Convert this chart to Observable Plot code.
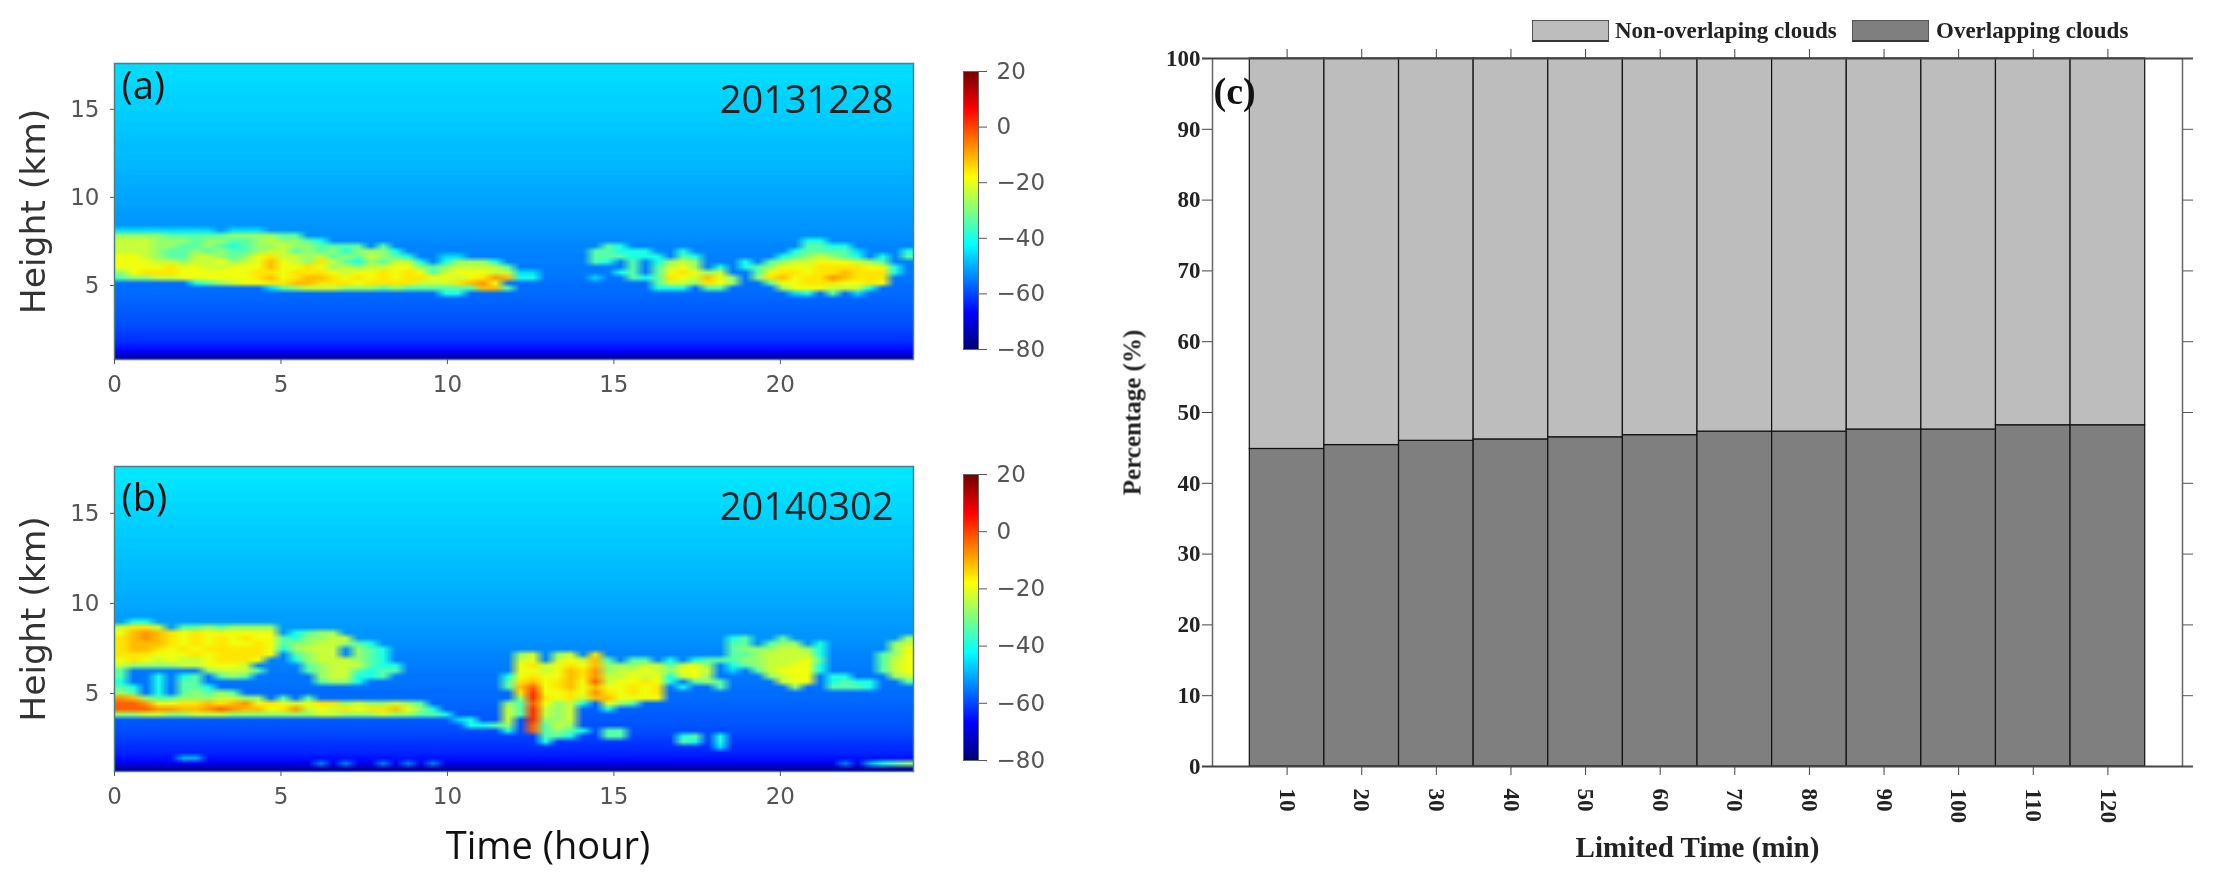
<!DOCTYPE html>
<html>
<head>
<meta charset="utf-8">
<script src="https://cdn.jsdelivr.net/npm/d3@7"></script>
<script src="https://cdn.jsdelivr.net/npm/@observablehq/plot@0.6"></script>
<style>
  html, body { margin: 0; background: #fff; }
  #page { position: relative; width: 2218px; height: 883px; overflow: hidden; }
  #page svg { position: absolute; filter: blur(0.6px); background: none; overflow: visible; }
  .swatch { position: absolute; top: 20px; height: 19px; width: 75px; border: 1px solid #555; border-bottom: 2px solid #333; filter: blur(0.5px); }
  .legtext { position: absolute; top: 18px; font: bold 23px "Liberation Serif"; color: #222; line-height: 26px; white-space: nowrap; }
</style>
</head>
<body>
<div id="page"></div>
<script>
// reflectivity (dBZ): letters are levels, "." means clear air
const levelChars = "vwxabcdefghijk";
const levelValues = [-60, -55, -50, -46, -40, -34, -28, -23, -19, -15, -11, -7, -2, 3];

// clear air value per height row, top to bottom
const clearAirA = [-46,-46,-46,-46,-46.5,-46.5,-47,-47,-47,-47.5,-47.5,-48,-48,-48.5,-48.5,-49,-49,-49,-49.5,-49.5,-50,-50.5,-50.5,-51,-51,-51.5,-51.5,-52,-52.5,-52.5,-53,-53,-53.5,-54,-54.5,-54.5,-55,-55,-55.5,-55.5,-56,-56.5,-57,-57,-57.5,-58,-58.5,-59,-59.5,-60,-61,-62,-63,-65,-68,-75];
const clearAirB = [-45,-45,-45,-45.5,-45.5,-46,-46,-46.5,-46.5,-47,-47,-47.5,-47.5,-48,-48,-48.5,-48.5,-49,-49,-49.5,-49.5,-50,-50,-50.5,-51,-51,-51.5,-52,-52,-52.5,-53,-53,-53.5,-54,-54.5,-55,-55,-55.5,-56,-56,-56.5,-57,-57,-57.5,-58,-58.5,-59,-59.5,-60,-61,-62,-63,-64,-66,-69,-77];

// cloud rows, left half | right half, starting at row cloudStartA (spaces are only for reading)
const cloudStartA = 31;
const cloudA = [
  "aaaaaaaa.aaa|",
  "ddddcccccddddcc|",
  "eeedddcddccdeddcb|...... .. .. .. ... ... . ....bb...... .",
  "eeeddccdcbcddeddcccc.c|...... .c b. .. ... ... . ....ccbb.... .",
  "eeedccdcdccdeecdcdbdddb|...... cc bb b. .b. ... . ...bcccca... b",
  "ffedcceedcdfgeedecdcedcb..aa|...... cc cb bb .cb ... . ..bcdedcb.b. c",
  "fffeedeefdefhfedgecbdceeb.bdddb|...... cb .c .b ded ... b .cdeefffedc. .",
  "ffffgffeefffhffgfdedeeffdcdeeeec|...... .. .c .c efd .b. b cdfffggggffb .",
  "dfgggffffffggfgggfeffgfgfcefffee|aa.... .. bc .c fgf de. . cfggfgghgggb .",
  "cddeeffffffghfghhgfgfgfggffefgih|bb.... a. .c bc gfe hfd . dghfggihggg. .",
  "......bcdeffgghhgggfggggeeeghif|...... .. .. .c eed gfd . .cffgggffgf. .",
  "............acdeeedddcdcccccchhc|...... .. .. .b bb. cc. . ..dfffeeeb.. .",
  "..........................bb|...... .. .. .. ... ... . ...ab.c.a.... ."
];

const cloudStartB = 28;
const cloudB = [
  ".bb|",
  "egge.ccdcdddd|",
  "fhihgfgffffff.bcdd|",
  "ghihgfgfgfgffcbddee|... ... . .. ... ..... bc ..c.. . .... ..d",
  "ghhhgfgfgffgfcddeedcb|... ... . .. ... ..... cc .cdd. b .... .de",
  "ghhgfgfgggggfbdeee.dcb|... ... . .. ... ..... cd ddeed b .... .df",
  "gggfffgfggggf.cdee.dcb|de. de. g .. ... ..... cc deeee b .... cdf",
  "fgfefeefgggf..bdeeedcb|ef. efe h c. cc. b.bcc cd deeef c .... cef",
  "eddddeefffe....cdeeecbb|fge fgf h dd dee cefd. bc deeff b .... cef",
  "c......deeec...cdeecbcc|ffe fhg i de efe dffe. a. cefff b .... cef",
  "c..b.bc.cdc.....deebbc.........b|fgf fhg i ee fef befd. .. .deff . bb.. .de",
  "b..b.cc.........cddb...........c|ghf ghf j ef fgf b.cdc .. ..eff . bcbb ..c",
  "cb.b.ccb.......................c|hjf ghf h ff gfg .b..c .. ...d. . cccb ...",
  "dc.b.cdcdc|gkf fgf i gf gfg",
  "ihdccdddeedd.c.c|dkg fge h hf fff",
  "jjiffgghghifgfefggdeddedc......d|cjf deb . fd c..",
  "jjjiihhijihhfgiefegfgghfdb.....e|cke de. . b. ...",
  "ddeeddeeedddddddeedddeddccb....e|cke de.",
  "...........................ab..e|.kd de.",
  "............................bbcd|.jc ed.",
  "...............................b|.jc dcb . cc",
  "|..c cb. . cc ... .bc.b",
  "|..b ... . .. ... .cb.b",
  "|... ... . .. ... ....a",
  "|",
  ".....xx|",
  "................w.w..w.w.w|..........................w.xbcd"
];

const timeBounds = [0, 24];
const heightBoundsA = [17.6, 0.8];
const heightBoundsB = [17.6, 0.67];
const xTicks = [0, 5, 10, 15, 20];
const yTicks = [5, 10, 15];
const barTicks = [20, 0, -20, -40, -60, -80];
const barLevels = [20,17.5,15,12.5,10,7.5,5,2.5,0,-2.5,-5,-7.5,-10,-12.5,-15,-17.5,-20,-22.5,-25,-27.5,-30,-32.5,-35,-37.5,-40,-42.5,-45,-47.5,-50,-52.5,-55,-57.5,-60,-62.5,-65,-67.5,-70,-72.5,-75,-77.5,-80];

// panel c
const limitedTime = [10, 20, 30, 40, 50, 60, 70, 80, 90, 100, 110, 120];
const overlapping = [44.85, 45.4, 46, 46.2, 46.5, 46.8, 47.3, 47.3, 47.6, 47.6, 48.2, 48.2];
const nonOverlapping = [55.15, 54.6, 54, 53.8, 53.5, 53.2, 52.7, 52.7, 52.4, 52.4, 51.8, 51.8];
const percentTicks = [0, 10, 20, 30, 40, 50, 60, 70, 80, 90, 100];

const jet = {
  type: "linear",
  domain: [-80, -67.5, -42.5, -17.5, 7.5, 20],
  range: ["#00007f", "#0000ff", "#00ffff", "#ffff00", "#ff0000", "#7f0000"]
};

const page = document.getElementById("page");
function place(svg, left, top) {
  svg.style.left = left + "px";
  svg.style.top = top + "px";
  page.append(svg);
}

function toGrid(clearAir, rows, start) {
  const out = [];
  clearAir.forEach((v, i) => {
    const parts = (rows[i - start] || "|").replaceAll(" ", "").split("|");
    const line = parts[0].padEnd(32, ".").slice(0, 32) + (parts[1] || "").padEnd(32, ".").slice(0, 32);
    for (const ch of line) {
      const k = levelChars.indexOf(ch);
      out.push(k < 0 ? v : levelValues[k]);
    }
  });
  return out;
}

function radarPanel(grid, yBounds, letter, letterDy, date, dateDy, panelH, xLabel) {
  return Plot.plot({
    width: 930, height: panelH + 110,
    marginLeft: 114, marginRight: 17, marginTop: 10, marginBottom: 100,
    style: {fontFamily: "DejaVu Sans", color: "#555"},
    x: {domain: timeBounds},
    y: {domain: [yBounds[1], yBounds[0]]},
    color: jet,
    marks: [
      Plot.raster(grid, {width: 64, height: 56, x1: timeBounds[0], x2: timeBounds[1], y1: yBounds[0], y2: yBounds[1]}),
      Plot.frame({stroke: "#4f7f80", strokeWidth: 1.5}),
      Plot.axisX({ticks: xTicks, tickSize: 5, tickPadding: 11, fontSize: 23, label: null, stroke: "#555", fill: "#555"}),
      Plot.axisY({ticks: yTicks, tickSize: 4, tickPadding: 11, fontSize: 23, label: null, stroke: "#555", fill: "#555"}),
      Plot.text(["Height (km)"], {frameAnchor: "left", textAnchor: "middle", dx: -81, rotate: -90, fontSize: 34.5, fill: "#333", fontFamily: "DejaVu Sans"}),
      Plot.text([letter], {frameAnchor: "top-left", dx: 7, dy: letterDy, fontSize: 38, fill: "#111", fontFamily: "Open Sans"}),
      Plot.text([date], {frameAnchor: "top-right", dx: -20, dy: dateDy, fontSize: 38, fill: "#222", fontFamily: "Open Sans"}),
      xLabel ? Plot.text([xLabel], {frameAnchor: "bottom", dx: 34, dy: 87, fontSize: 38, fill: "#111", fontFamily: "Open Sans"}) : null
    ]
  });
}

function colorBar(h) {
  return Plot.plot({
    width: 75, height: h + 20,
    marginLeft: 5, marginRight: 55, marginTop: 10, marginBottom: 10,
    style: {fontFamily: "DejaVu Sans", color: "#555"},
    x: {domain: [0, 1], axis: null},
    y: {domain: [-80, 20]},
    color: jet,
    marks: [
      Plot.raster(barLevels, {width: 1, height: barLevels.length, x1: 0, x2: 1, y1: 20, y2: -80}),
      Plot.frame({stroke: "#666", strokeWidth: 1}),
      Plot.axisY({anchor: "right", ticks: barTicks, tickSize: 8, tickPadding: 10, fontSize: 23, label: null, stroke: "#555", fill: "#555"})
    ]
  });
}

place(radarPanel(toGrid(clearAirA, cloudA, cloudStartA), heightBoundsA, "(a)", 9, "20131228", 23, 296), 0, 53);
place(radarPanel(toGrid(clearAirB, cloudB, cloudStartB), heightBoundsB, "(b)", 18, "20140302", 27, 305, "Time (hour)"), 0, 456);
place(colorBar(278), 958, 61);
place(colorBar(286), 958, 464);

// panel c
const rows = limitedTime.flatMap((t, i) => [
  {t, kind: "Overlapping clouds", value: overlapping[i]},
  {t, kind: "Non-overlaping clouds", value: nonOverlapping[i]}
]);
const grays = {domain: ["Non-overlaping clouds", "Overlapping clouds"], range: ["#bdbdbd", "#7f7f7f"]};
const serif = "Liberation Serif";

place(Plot.plot({
  width: 1050, height: 829,
  marginLeft: 69, marginRight: 11, marginTop: 8, marginBottom: 113,
  style: {fontFamily: serif, color: "#222", fontWeight: "bold"},
  x: {domain: [0, 130]},
  y: {domain: [0, 100]},
  color: grays,
  marks: [
    Plot.rectY(rows, {x1: d => d.t - 5, x2: d => d.t + 5, y: "value", fill: "kind", order: ["Overlapping clouds", "Non-overlaping clouds"], stroke: "#111", strokeWidth: 1.2}),
    Plot.ruleX([0, 130], {stroke: "#666", strokeWidth: 1.5}),
    Plot.ruleY([0, 100], {stroke: "#444", strokeWidth: 2, insetLeft: -10, insetRight: -11}),
    Plot.axisY({anchor: "left", ticks: percentTicks, tickSize: 10, tickPadding: 2, fontSize: 23, label: null, stroke: "#444"}),
    Plot.axisY({anchor: "right", ticks: percentTicks, tickSize: 10, tickFormat: () => "", label: null, stroke: "#555"}),
    Plot.axisX({anchor: "bottom", ticks: limitedTime, tickSize: 9, tickPadding: 13, tickRotate: 90, fontSize: 23, label: null, stroke: "#444"}),
    Plot.axisX({anchor: "top", ticks: limitedTime, tickSize: 10, tickFormat: () => "", label: null, stroke: "#444"}),
    Plot.text(["Limited Time (min)"], {frameAnchor: "bottom", dy: 90, fontSize: 29, fontWeight: "bold", fontFamily: serif}),
    Plot.text(["Percentage (%)"], {frameAnchor: "left", textAnchor: "middle", dx: -80, rotate: -90, fontSize: 25, fontWeight: "bold", fontFamily: serif}),
    Plot.text(["(c)"], {frameAnchor: "top-left", dx: 1, dy: 19, fontSize: 38, fontWeight: "bold", fontFamily: serif, fill: "#111"})
  ]
}), 1143, 50);

// legend
[["Non-overlaping clouds", 1532, 1615], ["Overlapping clouds", 1852, 1936]].forEach(([name, boxX, textX], i) => {
  const box = document.createElement("div");
  box.className = "swatch";
  box.style.left = boxX + "px";
  box.style.background = grays.range[i];
  page.append(box);
  const label = document.createElement("div");
  label.className = "legtext";
  label.style.left = textX + "px";
  label.textContent = name;
  page.append(label);
});
</script>
</body>
</html>
